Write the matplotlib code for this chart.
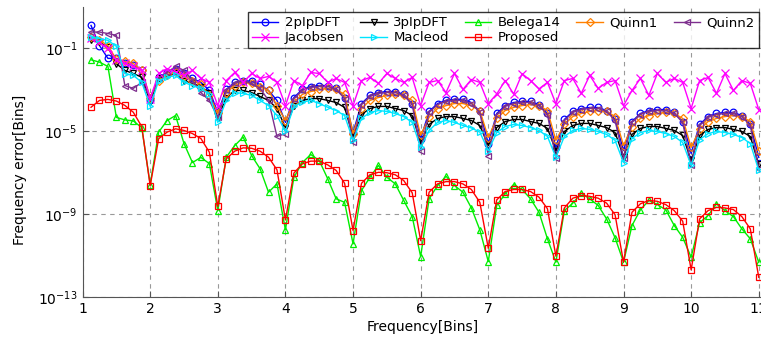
import numpy as np
import matplotlib
matplotlib.use("Agg")
import matplotlib.pyplot as plt

# frequency grid (bins), 8 points per bin
freq = np.arange(1.125, 11.0 + 1e-9, 0.125)

# log10 of the frequency error for each estimator, one row per bin interval
err_2p = [0.11, -0.86, -1.48, -1.48, -1.68, -1.82, -2.06, -3.51,
          -2.40, -2.16, -1.97, -2.21, -2.45, -2.64, -3.03, -4.09,
          -2.98, -2.64, -2.55, -2.59, -2.74, -3.03, -3.51, -4.57,
          -3.37, -2.98, -2.84, -2.79, -2.79, -2.93, -3.37, -5.06,
          -3.66, -3.27, -3.13, -3.08, -3.08, -3.22, -3.66, -5.35,
          -4.04, -3.66, -3.51, -3.46, -3.46, -3.61, -4.04, -5.59,
          -4.14, -3.76, -3.61, -3.56, -3.56, -3.71, -4.14, -5.78,
          -4.43, -4.04, -3.90, -3.85, -3.85, -4.00, -4.43, -5.93,
          -4.53, -4.14, -4.00, -3.95, -3.95, -4.09, -4.53, -6.07,
          -4.67, -4.29, -4.14, -4.09, -4.09, -4.24, -4.67, -6.26]

err_jacobsen = [-0.52, -0.71, -1.00, -1.58, -1.72, -1.87, -2.06, -3.42,
                -2.21, -1.97, -2.16, -2.30, -2.06, -2.45, -2.64, -3.76,
                -2.55, -2.16, -2.64, -2.21, -2.45, -2.35, -2.64, -3.76,
                -2.55, -2.79, -2.16, -2.21, -2.64, -2.45, -2.64, -3.76,
                -2.55, -2.40, -2.69, -2.21, -2.45, -2.64, -2.40, -3.76,
                -2.64, -2.55, -3.13, -2.21, -2.98, -2.50, -2.64, -3.66,
                -3.20, -2.55, -3.20, -2.22, -2.55, -2.95, -2.64, -3.67,
                -2.55, -2.45, -3.17, -2.30, -2.93, -2.64, -2.55, -3.76,
                -3.03, -2.45, -3.27, -2.21, -2.64, -2.45, -2.64, -3.90,
                -2.55, -2.40, -3.17, -2.21, -3.03, -2.55, -2.69, -3.95]

err_3p = [-0.61, -0.70, -0.94, -1.74, -2.06, -2.21, -2.39, -3.59,
          -2.45, -2.30, -2.21, -2.55, -2.69, -2.84, -3.13, -4.38,
          -3.37, -3.03, -3.03, -3.13, -3.32, -3.51, -3.90, -4.82,
          -3.80, -3.51, -3.42, -3.42, -3.51, -3.61, -3.85, -5.25,
          -4.19, -3.90, -3.80, -3.80, -3.90, -4.00, -4.24, -5.54,
          -4.67, -4.38, -4.29, -4.29, -4.38, -4.48, -4.72, -5.69,
          -4.82, -4.53, -4.43, -4.43, -4.53, -4.62, -4.86, -5.93,
          -5.01, -4.72, -4.62, -4.62, -4.72, -4.82, -5.06, -6.22,
          -5.15, -4.86, -4.77, -4.77, -4.86, -4.96, -5.20, -6.41,
          -5.20, -4.91, -4.82, -4.82, -4.91, -5.01, -5.25, -6.60]

err_macleod = [-0.45, -0.53, -0.61, -0.90, -2.22, -2.30, -2.63, -3.80,
               -2.55, -2.40, -2.30, -2.64, -2.79, -2.93, -3.22, -4.57,
               -3.51, -3.13, -3.17, -3.27, -3.51, -3.76, -4.24, -5.01,
               -3.80, -3.59, -3.51, -3.66, -3.84, -4.00, -4.24, -5.44,
               -4.38, -4.09, -4.00, -4.04, -4.14, -4.29, -4.57, -5.78,
               -4.96, -4.57, -4.48, -4.57, -4.72, -4.84, -5.04, -5.93,
               -5.06, -4.77, -4.67, -4.72, -4.82, -4.96, -5.25, -6.26,
               -5.25, -4.96, -4.86, -4.91, -5.01, -5.15, -5.44, -6.51,
               -5.35, -5.06, -4.96, -5.01, -5.11, -5.25, -5.54, -6.65,
               -5.40, -5.11, -5.01, -5.06, -5.15, -5.30, -5.59, -6.89]

err_belega = [-1.55, -1.66, -1.87, -4.33, -4.45, -4.50, -4.82, -7.57,
              -5.04, -4.48, -4.24, -5.59, -6.51, -6.26, -6.56, -8.83,
              -6.25, -5.69, -5.28, -6.17, -6.81, -7.94, -7.54, -9.76,
              -7.22, -6.51, -6.12, -6.41, -7.29, -8.26, -8.43, -10.43,
              -7.86, -7.22, -6.65, -7.22, -7.54, -8.34, -9.12, -11.05,
              -8.26, -7.62, -7.17, -7.62, -7.94, -8.70, -9.76, -11.29,
              -8.58, -8.02, -7.57, -7.81, -8.26, -8.91, -10.19, -11.32,
              -8.83, -8.47, -7.99, -8.26, -8.58, -9.23, -10.14, -11.32,
              -9.55, -8.79, -8.34, -8.54, -8.79, -9.55, -10.12, -11.08,
              -9.41, -9.07, -8.50, -8.83, -9.12, -9.71, -10.19, -11.32]

err_proposed = [-3.84, -3.51, -3.46, -3.54, -3.75, -4.08, -4.77, -7.62,
                -5.36, -5.04, -4.88, -4.96, -5.11, -5.35, -6.01, -8.63,
                -6.33, -5.96, -5.80, -5.82, -5.96, -6.25, -6.86, -9.28,
                -7.02, -6.57, -6.44, -6.44, -6.62, -6.89, -7.51, -9.79,
                -7.51, -7.10, -6.98, -7.00, -7.10, -7.38, -7.97, -10.28,
                -7.94, -7.54, -7.43, -7.43, -7.54, -7.81, -8.43, -10.65,
                -8.31, -7.91, -7.81, -7.81, -7.91, -8.18, -8.74, -11.03,
                -8.70, -8.23, -8.10, -8.14, -8.23, -8.47, -9.03, -11.32,
                -8.91, -8.50, -8.34, -8.38, -8.54, -8.83, -9.34, -11.69,
                -9.23, -8.83, -8.67, -8.70, -8.78, -9.12, -9.71, -12.05]

err_quinn1 = [-0.47, -0.61, -0.86, -1.53, -1.63, -1.72, -2.06, -3.37,
              -2.55, -2.30, -2.16, -2.35, -2.55, -2.74, -3.27, -4.14,
              -3.13, -2.79, -2.64, -2.69, -2.84, -3.03, -3.76, -4.48,
              -3.61, -3.22, -3.08, -2.98, -2.93, -2.98, -3.22, -5.11,
              -3.90, -3.51, -3.37, -3.27, -3.22, -3.27, -3.51, -5.20,
              -4.32, -3.90, -3.76, -3.66, -3.66, -3.76, -4.00, -5.30,
              -4.38, -4.00, -3.85, -3.76, -3.71, -3.76, -4.00, -5.44,
              -4.67, -4.29, -4.14, -4.04, -4.00, -4.04, -4.29, -5.69,
              -4.77, -4.38, -4.24, -4.14, -4.09, -4.14, -4.38, -5.78,
              -4.91, -4.53, -4.38, -4.29, -4.24, -4.29, -4.53, -5.93]

err_quinn2 = [-0.21, -0.21, -0.28, -0.37, -2.79, -2.93, -2.64, -3.37,
              -2.45, -2.16, -1.87, -2.06, -2.55, -3.13, -3.51, -4.33,
              -3.03, -2.69, -2.55, -2.69, -2.93, -3.51, -5.25, -5.11,
              -3.42, -3.03, -2.88, -2.84, -2.84, -2.98, -3.42, -5.54,
              -3.71, -3.32, -3.17, -3.13, -3.13, -3.27, -3.71, -5.93,
              -4.09, -3.71, -3.56, -3.51, -3.51, -3.66, -4.09, -6.17,
              -4.19, -3.80, -3.66, -3.61, -3.61, -3.76, -4.19, -6.31,
              -4.48, -4.09, -3.95, -3.90, -3.90, -4.04, -4.48, -6.31,
              -4.57, -4.19, -4.04, -4.00, -4.00, -4.14, -4.57, -6.65,
              -4.72, -4.33, -4.19, -4.14, -4.14, -4.29, -4.72, -6.80]

# label, data, colour, marker (legend order)
series = [
    ("2pIpDFT", err_2p, "#0000ff", "o"),
    ("Jacobsen", err_jacobsen, "#ff00ff", "x"),
    ("3pIpDFT", err_3p, "#000000", "v"),
    ("Macleod", err_macleod, "#00e5ff", ">"),
    ("Belega14", err_belega, "#00ee00", "^"),
    ("Proposed", err_proposed, "#ff0000", "s"),
    ("Quinn1", err_quinn1, "#ff8000", "D"),
    ("Quinn2", err_quinn2, "#7e2f8e", "<"),
]
draw_order = ["2pIpDFT", "3pIpDFT", "Quinn1", "Quinn2", "Jacobsen",
              "Macleod", "Belega14", "Proposed"]

plt.rcParams["font.family"] = ["DejaVu Sans"]
fig = plt.figure(figsize=(7.61, 3.47), dpi=100)
ax = fig.add_axes([0.1085, 0.1441, 0.893, 0.8357])

handles = {}
for name in draw_order:
    label, vals, color, marker = next(s for s in series if s[0] == name)
    ms = 5.5 if marker == "x" else 4.8
    if marker == "D":
        ms = 4.0
    (h,) = ax.plot(freq, 10.0 ** np.array(vals), color=color, lw=1.0,
                   marker=marker, ms=ms, mfc="none", mec=color, mew=0.9,
                   label=label)
    handles[label] = h

ax.set_yscale("log")
ax.set_xlim(1, 11.05)
ax.set_ylim(1e-13, 10)
ax.set_xticks(range(1, 12))
ax.set_yticks([1e-13, 1e-9, 1e-5, 1e-1])
ax.set_yticklabels([r"$10^{-13}$", r"$10^{-9}$", r"$10^{-5}$", r"$10^{-1}$"])
ax.yaxis.set_minor_locator(matplotlib.ticker.NullLocator())
ax.tick_params(direction="in", labelsize=10, length=4, color="#555555")
ax.grid(True, which="major", color="#999999", linestyle=(0, (4, 4)), lw=0.8)
for side in ["top", "right"]:
    ax.spines[side].set_visible(False)
for side in ["left", "bottom"]:
    ax.spines[side].set_color("#555555")

ax.set_xlabel("Frequency[Bins]", fontsize=10, labelpad=3)
ax.set_ylabel("Frequency error[Bins]", fontsize=10)
ax.yaxis.set_label_coords(-0.082, 0.44)

labels = [s[0] for s in series]
leg = ax.legend([handles[l] for l in labels], labels, ncol=5,
                loc="upper right", bbox_to_anchor=(0.995, 0.982),
                fontsize=9.5, frameon=True, fancybox=False,
                borderpad=0.3, labelspacing=0.15, columnspacing=1.2,
                handlelength=2.0, handletextpad=0.5, borderaxespad=0)
leg.get_frame().set_edgecolor("black")
leg.get_frame().set_linewidth(1.0)

fig.savefig("out.png", dpi=100)
